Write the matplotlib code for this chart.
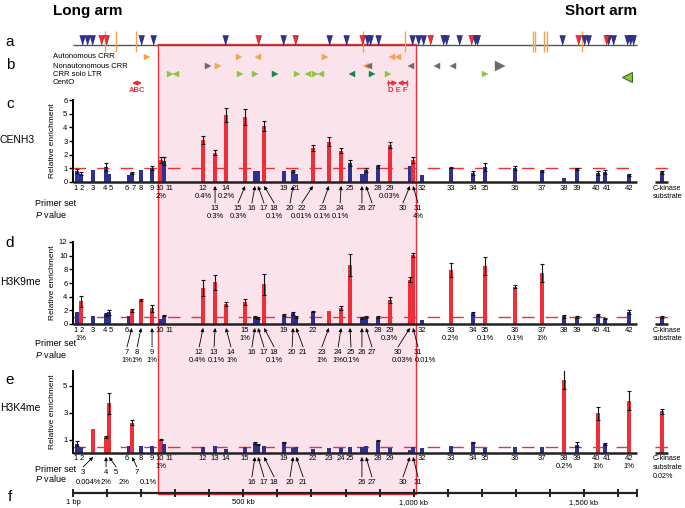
import numpy as np
import matplotlib.pyplot as plt
from matplotlib.patches import Rectangle

plt.rcParams['font.family'] = ['Liberation Sans', 'DejaVu Sans']
plt.rcParams['mathtext.fontset'] = 'custom'
plt.rcParams['mathtext.it'] = 'Liberation Sans:italic'
plt.rcParams['mathtext.rm'] = 'Liberation Sans'

# primer sets 1-42, position on the chromosome (kb)
primer_kb = [12, 23, 59, 97, 106, 164, 173, 200, 232, 258, 267, 382, 417, 449,
             505, 534, 543, 561, 619, 646, 655, 704, 751, 787, 813, 848, 860,
             895, 930, 989, 998, 1024, 1109, 1174, 1209, 1297, 1377, 1441, 1479,
             1541, 1561, 1632]
ck_kb = 1729          # C-kinase substrate control, drawn apart
chrom_end_kb = 1655
core_kb = (250, 1007)  # shaded centromere core

# relative enrichment per primer set (+ C-kinase as last value)
cenh3 = [0.8, 0.6, 0.85, 1.1, 0.6, 0.5, 0.65, 0.85, 1.05, 1.6, 1.55, 3.1, 2.15, 4.9,
         4.75, 0.8, 0.8, 4.1, 0.8, 0.8, 0.6, 2.5, 2.95, 2.3, 1.4, 0.6, 0.85, 1.15,
         2.7, 1.15, 1.6, 0.5, 1.05, 0.65, 1.1, 1.0, 0.8, 0.3, 0.95, 0.65, 0.75, 0.5, 0.7]
cenh3_err = [0.15, 0.1, 0, 0.3, 0, 0, 0.1, 0, 0.15, 0.2, 0.3, 0.3, 0.2, 0.5,
             0.6, 0, 0, 0.4, 0, 0.05, 0, 0.2, 0.35, 0.2, 0.2, 0, 0.15, 0.1,
             0.2, 0, 0.2, 0, 0.05, 0.15, 0.3, 0.15, 0.1, 0, 0.05, 0.15, 0.15, 0.05, 0.1]
cenh3_sig = [10, 12, 13, 14, 15, 18, 22, 23, 24, 29, 31]

h3k9 = [1.7, 3.3, 1.15, 1.4, 1.7, 1.2, 2.0, 3.5, 2.3, 0.8, 1.2, 5.3, 6.1, 2.9,
        3.25, 1.0, 0.9, 5.8, 1.3, 1.55, 1.05, 1.8, 1.95, 2.3, 8.6, 0.9, 1.05, 1.05,
        3.5, 6.5, 10.1, 0.6, 7.9, 1.55, 8.45, 5.45, 7.5, 1.15, 1.0, 1.3, 0.8, 1.7, 1.05]
h3k9_err = [0, 0.8, 0, 0.2, 0.4, 0, 0.2, 0.1, 0.5, 0, 0.1, 1.2, 1.1, 0.3,
            0.4, 0.1, 0.1, 1.5, 0.1, 0.2, 0.1, 0.1, 0, 0.3, 1.6, 0.1, 0.1, 0.1,
            0.4, 0.4, 0.3, 0, 1.0, 0.2, 1.3, 0.2, 1.3, 0.2, 0.1, 0.1, 0.1, 0.3, 0.15]
h3k9_sig = [2, 7, 8, 9, 12, 13, 14, 15, 18, 23, 24, 25, 29, 30, 31, 33, 35, 36, 37]

h3k4 = [0.7, 0.42, 1.75, 1.2, 3.7, 0.5, 2.25, 0.55, 0.55, 1.0, 0.7, 0.42, 0.55, 0.33,
        0.42, 0.75, 0.62, 0.55, 0.8, 0.37, 0.45, 0.33, 0.37, 0.37, 0.45, 0.45, 0.55,
        0.92, 0.37, 0.25, 0.42, 0.37, 0.5, 0.8, 0.37, 0.45, 0.42, 5.45, 0.62, 2.95,
        0.67, 3.9, 3.1]
h3k4_err = [0.2, 0, 0, 0.1, 0.8, 0, 0.2, 0, 0, 0.05, 0, 0, 0, 0,
            0, 0.05, 0.05, 0, 0.05, 0, 0, 0, 0, 0, 0, 0, 0,
            0.05, 0, 0, 0, 0, 0, 0.05, 0, 0, 0, 0.7, 0.2, 0.5, 0.1, 0.7, 0.2]
h3k4_sig = [3, 4, 5, 7, 10, 38, 40, 42, 'ck']

# panel a: marker positions (kb)
a_navy = [26, 41, 56, 200, 235, 446, 616, 751, 801, 863, 872, 895, 995, 1013, 1027,
          1086, 1095, 1133, 1180, 1186, 1435, 1500, 1512, 1570, 1585, 1626, 1635, 1644]
a_red = [82, 97, 543, 652, 848, 1048, 1168, 1482, 1564]
a_orange = [94, 126, 185, 851, 974, 1350, 1356, 1382, 1391, 1494]

# panel b: repeat elements (kb), by orientation
auto_right = [217, 487, 740]
auto_left = [543, 936, 954]
nonauto_right_grey = [396]
nonauto_right_big = [1253]
nonauto_right_orange = [426]
nonauto_left_grey = [870, 992, 1068, 1115]
nonauto_left_orange = [860]
ltr_light_right = [490, 534, 657, 925, 1209]
ltr_light_left = [690]
ltr_dark_right = [593, 878]
ltr_dark_left = [819]
ltr_light_pair = [293, 719]
ltr_big_left = [1626]
cento_abc = (173, 203)
cento_def = (925, 980)

scale_ticks = list(range(0, 1700, 100)) + [chrom_end_kb]
scale_labels = {0: '1 bp', 500: '500 kb', 1000: '1,000 kb', 1500: '1,500 kb'}

RED = '#ee2f37'
BLUE = '#2e3192'
PINK = '#fbe3ec'
ORANGE = '#f7a24f'
GREY = '#6d6870'
LGREEN = '#8dc63f'
DGREEN = '#0d8a4a'

W, H = 685, 508
X0, PX_PER_KB = 73, 0.3407
XLIM = (-X0 / PX_PER_KB, (W - X0) / PX_PER_KB)
# small pixel nudges for crowded primer numbers
ROW_OFF = {1: -1, 2: 1, 4: -1, 5: 2, 6: -2, 7: 2, 10: -1, 11: 5, 40: -2, 41: 2}


def kb(px):
    return (px - X0) / PX_PER_KB


fig = plt.figure(figsize=(W / 100, H / 100), dpi=100)
ax0 = fig.add_axes([0, 0, 1, 1], zorder=0)
ax0.set_xlim(XLIM)
ax0.set_ylim(H, 0)
ax0.axis('off')

ax0.add_patch(Rectangle((core_kb[0], 44), core_kb[1] - core_kb[0], 450,
                        facecolor=PINK, edgecolor=RED, lw=1, zorder=0))

# titles and panel letters
ax0.text(kb(53), 11, 'Long arm', fontsize=11, fontweight='bold', va='center')
ax0.text(kb(637), 11, 'Short arm', fontsize=11, fontweight='bold', va='center', ha='right')
for letter, y in zip('abcdef', [42, 65, 104, 243, 380, 497]):
    ax0.text(kb(10), y, letter, fontsize=11, ha='center', va='center')
for name, y in [('CENH3', 140), ('H3K9me', 282), ('H3K4me', 408)]:
    ax0.text(kb(0), y, name, fontsize=7.5, va='center')

# panel a
tri_down = [(-0.6, 1), (0.6, 1), (0, -1)]
ax0.hlines(45, 0, chrom_end_kb, color='#555555', lw=1, zorder=2)
ax0.vlines(a_orange, 31, 52, color=ORANGE, lw=1, zorder=2)
ax0.plot(a_navy, [40] * len(a_navy), ls='none', marker=tri_down, ms=7,
         mfc=BLUE, mec='#1a1a4a', mew=0.4, zorder=3)
ax0.plot(a_red, [40] * len(a_red), ls='none', marker=tri_down, ms=7,
         mfc=RED, mec='#6a1a1a', mew=0.4, zorder=3)

# panel b
rows = {'Autonomous CRR': 57, 'Nonautonomous CRR': 66, 'CRR solo LTR': 74, 'CentO': 83}
for lab, y in rows.items():
    ax0.text(kb(53), y, lab, fontsize=5.5, va='center')


def tri(xs, y, m, c, ms=5):
    ax0.plot(xs, [y] * len(xs), ls='none', marker=m, ms=ms, mfc=c, mec=c, mew=0.3, zorder=3)


tri(auto_right, 57, '>', ORANGE)
tri(auto_left, 57, '<', ORANGE)
tri(nonauto_left_orange, 66, '<', ORANGE)
tri(nonauto_right_grey, 66, '>', GREY)
tri(nonauto_right_orange, 66, '>', ORANGE)
tri(nonauto_left_grey, 66, '<', GREY)
tri(nonauto_right_big, 66, '>', GREY, ms=6.5)
tri(ltr_light_right, 74, '>', LGREEN)
tri(ltr_light_left, 74, '<', LGREEN)
tri(ltr_dark_right, 74, '>', DGREEN)
tri(ltr_dark_left, 74, '<', DGREEN)
tri([x - 9 for x in ltr_light_pair], 74, '>', LGREEN)
tri([x + 9 for x in ltr_light_pair], 74, '<', LGREEN)
ax0.plot(ltr_big_left, [77], ls='none', marker='<', ms=6.5, mfc=LGREEN, mec='#3a6a2a', mew=0.8)

ax0.annotate('', xy=(cento_abc[1], 83), xytext=(cento_abc[0], 83),
             arrowprops=dict(arrowstyle='<|-|>', color=RED, lw=1.3, mutation_scale=5,
                             shrinkA=0, shrinkB=0))
mid = (cento_def[0] + cento_def[1]) / 2
for end in cento_def:
    ax0.annotate('', xy=(mid, 83), xytext=(end, 83),
                 arrowprops=dict(arrowstyle='-|>', color=RED, lw=1.3, mutation_scale=6,
                                 shrinkA=0, shrinkB=0))
ax0.vlines(cento_def, 80, 86, color=RED, lw=1)
ax0.text(sum(cento_abc) / 2, 91, 'ABC', color=RED, fontsize=5.5, fontweight='bold',
         ha='center', va='center')
ax0.text(mid, 91, 'D E F', color=RED, fontsize=5.5, fontweight='bold', ha='center', va='center')

# panel f scale bar
ax0.hlines(493, 0, chrom_end_kb, color='#222222', lw=1.6, zorder=3)
ax0.vlines(scale_ticks, 489, 497, color='#222222', lw=1.4, zorder=3)
for t, lab in scale_labels.items():
    ax0.text(t, 503, lab, fontsize=5.5, ha='center', va='center')


def panel(y0, y1, ymax, ticks, vals, errs, sig, level):
    ax = fig.add_axes([0, (H - y0) / H, 1, (y0 - y1) / H], zorder=2)
    ax.patch.set_visible(False)
    ax.set_xlim(XLIM)
    ax.set_ylim(0, ymax)
    for s in ['top', 'right', 'bottom']:
        ax.spines[s].set_visible(False)
    ax.spines['left'].set_position(('data', 0))
    ax.spines['left'].set_linewidth(1.4)
    ax.set_xticks([])
    ax.set_yticks(ticks)
    ax.tick_params(axis='y', length=3, width=1, labelsize=5.5, pad=1)

    x = np.array(primer_kb + [ck_kb], dtype=float)
    v = np.array(vals)
    e = np.array(errs)
    ids = list(range(1, 43)) + ['ck']
    colors = [RED if i in sig else BLUE for i in ids]
    dash = (0, (9, 8))
    ax.hlines(level, 0, chrom_end_kb, colors=RED, linestyles=dash, lw=1, zorder=1)
    ax.hlines(level, kb(655), kb(668), colors=RED, linestyles=dash, lw=1, zorder=1)
    ax.bar(x, v, width=11, color=colors, zorder=2)
    m = e > 0
    ax.errorbar(x[m], v[m], yerr=e[m], fmt='none', ecolor='#111111', elinewidth=0.8,
                capsize=1.5, capthick=0.8, zorder=3)
    ax.hlines(0, 0, chrom_end_kb, colors='#222222', lw=1.8, zorder=4, clip_on=False)
    ax.hlines(0, kb(655), kb(668), colors='#222222', lw=1.8, zorder=4, clip_on=False)
    ax.text(kb(53), ymax / 2, 'Relative enrichment', rotation=90, fontsize=6,
            ha='center', va='center')
    return ax


def labels(base, y_row, row1, row1_p, arrows, arrow_p, y_lab, y_p, ck_lines, p_off=None):
    fs = 5.5
    for i in row1:
        ax0.text(primer_kb[i - 1] + ROW_OFF.get(i, 0) / PX_PER_KB, y_row[0], str(i),
                 fontsize=fs, ha='center', va='center')
    for i, p in row1_p.items():
        ax0.text(primer_kb[i - 1], y_row[1], p, fontsize=fs, ha='center', va='center')
    for i, off in arrows.items():
        lx = primer_kb[i - 1] + off / PX_PER_KB
        ax0.text(lx, y_lab, str(i), fontsize=fs, ha='center', va='center')
        ax0.annotate('', xy=(primer_kb[i - 1], base + 4), xytext=(lx, y_lab - 5),
                     arrowprops=dict(arrowstyle='-|>', color='k', lw=0.6, mutation_scale=5,
                                     shrinkA=0, shrinkB=0))
    for i, p in arrow_p.items():
        off = (p_off or {}).get(i, arrows[i])
        ax0.text(primer_kb[i - 1] + off / PX_PER_KB, y_p, p, fontsize=fs,
                 ha='center', va='center')
    for k, t in enumerate(ck_lines):
        ax0.text(kb(653), y_row[0] + 8.5 * k, t, fontsize=5.2, ha='left', va='center')


def primer_title(y):
    ax0.text(kb(35), y, 'Primer set', fontsize=6.5, va='center')
    ax0.text(kb(35), y + 10, '$P$ value', fontsize=6.5, va='center')


# panel c
panel(182, 100, 6, range(7), cenh3, cenh3_err, cenh3_sig, 1.0)
labels(182, (188, 197),
       [1, 2, 3, 4, 5, 6, 7, 8, 9, 10, 11, 12, 14, 19, 21, 25, 28, 29] + list(range(32, 43)),
       {10: '2%', 12: '0.4%', 14: '0.2%', 29: '0.03%'},
       {13: 0, 15: -7, 16: -3, 17: 6, 18: 10, 20: -3, 22: -11, 23: -6, 24: -1,
        26: 0, 27: 6, 30: -7, 31: 5},
       {13: '0.3%', 15: '0.3%', 18: '0.1%', 22: '0.01%', 23: '0.1%', 24: '0.1%', 31: '4%'},
       208, 217, ['C-kinase', 'substrate'])
primer_title(204)

# panel d
panel(324, 242, 12, range(0, 13, 2), h3k9, h3k9_err, h3k9_sig, 1.0)
labels(324, (330, 339),
       [1, 2, 3, 4, 5, 6, 10, 11, 15, 19, 22, 28, 29] + list(range(32, 43)),
       {2: '1%', 15: '1%', 29: '0.3%', 33: '0.2%', 35: '0.1%', 36: '0.1%', 37: '1%'},
       {7: -5, 8: -4, 9: 0, 12: -4, 13: -1, 14: 5, 16: -3, 17: 6, 18: 10, 20: -1, 21: 7,
        23: -7, 24: -3, 25: 1, 26: 0, 27: 6, 30: -12, 31: 5},
       {7: '1%', 8: '1%', 9: '1%', 12: '0.4%', 13: '0.1%', 14: '1%', 18: '0.1%', 23: '1%',
        24: '1%', 25: '0.1%', 30: '0.03%', 31: '0.01%'},
       352, 361, ['C-kinase', 'substrate'],
       p_off={12: -6, 13: 1, 14: 6, 30: -8, 31: 12})
primer_title(344)

# panel e
panel(453, 371, 6.1, [1, 3, 5], h3k4, h3k4_err, h3k4_sig, 0.42)
labels(453, (459, 467),
       [1, 2, 6, 8, 9, 10, 11, 12, 13, 14, 15, 19, 22, 23, 24, 25, 28, 29] + list(range(32, 43)),
       {10: '1%', 38: '0.2%', 40: '1%', 42: '1%'},
       {3: -10, 4: 0, 5: 7, 7: 5},
       {3: '0.004%', 4: '2%', 5: '2%', 7: '0.1%'},
       472, 482, ['C-kinase', 'substrate', '0.02%'],
       p_off={3: -5, 4: 0, 5: 15, 7: 16})
labels(453, (459, 467), [], {},
       {16: -3, 17: 6, 18: 10, 20: -3, 21: 7, 26: 0, 27: 6, 30: -7, 31: 5},
       {}, 482, 490, [])
primer_title(469)

fig.savefig('out.png', dpi=100)
